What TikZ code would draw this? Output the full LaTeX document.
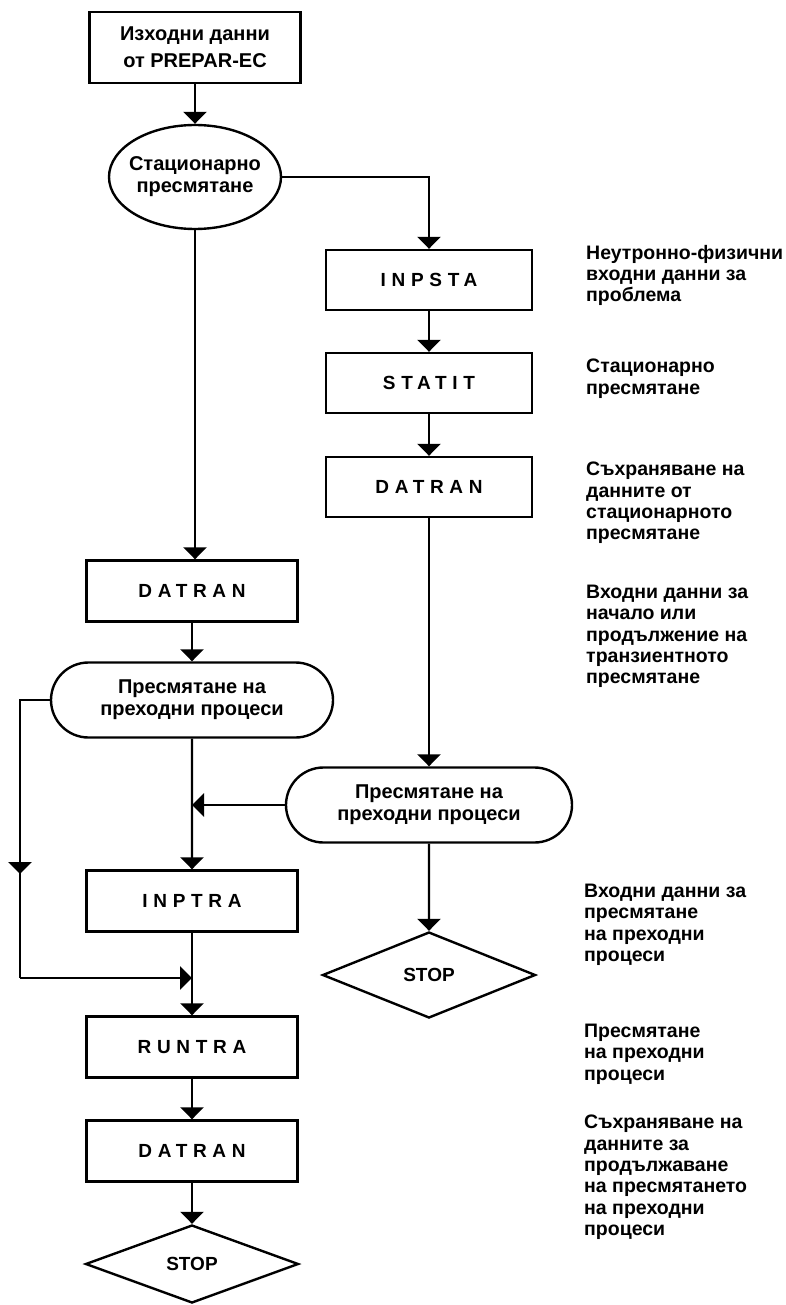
\documentclass[tikz,border=0pt]{standalone}
\usepackage{fontspec}
\setmainfont{Liberation Sans}
\usetikzlibrary{arrows.meta,shapes.geometric,shapes.misc}
\begin{document}
\begin{tikzpicture}[x=1pt,y=-1pt,
  ln/.style={line width=2.4pt},
  arr/.style={line width=2.4pt,-{Triangle[width=23pt,length=12pt]}},
  shp/.style={draw,line width=2.4pt,inner sep=0pt,align=center},
  txt/.style={font=\fontsize{20}{22}\selectfont\bfseries},
  box/.style={shp,minimum width=211pt,minimum height=61pt,
    font=\fontsize{19}{20}\selectfont\bfseries\addfontfeature{LetterSpace=30}},
  tbox/.style={shp,minimum width=211pt,minimum height=71pt,font=\fontsize{20}{27}\selectfont\bfseries},
  oval/.style={shp,txt,ellipse,inner xsep=-10pt,minimum width=172pt,minimum height=104pt},
  pill/.style={shp,txt,rounded rectangle,minimum width=282pt,minimum height=75pt},
  stopbox/.style={shp,diamond,minimum width=213pt,minimum height=82pt,font=\fontsize{19}{21}\selectfont\bfseries},
  note/.style={anchor=north west,inner sep=0pt,align=left,font=\fontsize{19.5}{21.3}\selectfont\bfseries}
]
\useasboundingbox (0,0) rectangle (785,1305);

% left column
\node[tbox] (top) at (195,47.5) {Изходни данни\\от PREPAR-EC};
\node[oval] (ell) at (195,177) {Стационарно\\пресмятане};
\node[box] (dl) at (192,591) {DATRAN};
\node[pill] (pl) at (192,700) {Пресмятане на\\преходни процеси};
\node[box] (inptra) at (192,901) {INPTRA};
\node[box] (runtra) at (192,1047) {RUNTRA};
\node[box] (dl2) at (192,1151) {DATRAN};
\node[stopbox,minimum height=78pt] (stopL) at (192,1264) {STOP};

% right column
\node[box,minimum width=206pt,minimum height=60pt] (inpsta) at (429,280) {INPSTA};
\node[box,minimum width=206pt,minimum height=60pt] (statit) at (429,383) {STATIT};
\node[box,minimum width=206pt,minimum height=60pt] (dr) at (429,487) {DATRAN};
\node[pill,minimum width=286pt] (pr) at (429,805) {Пресмятане на\\преходни процеси};
\node[stopbox,minimum height=86pt] (stopR) at (429,975) {STOP};

% notes
\node[note] (n1) at (586,245) {Неутронно-физични\\входни данни за\\проблема};
\node[note] (n2) at (586,359) {Стационарно\\пресмятане};
\node[note] (n3) at (586,462) {Съхраняване на\\данните от\\стационарното\\пресмятане};
\node[note] (n4) at (586,585) {Входни данни за\\начало или\\продължение на\\транзиентното\\пресмятане};
\node[note] (n5) at (584,884) {Входни данни за\\пресмятане\\на преходни\\процеси};
\node[note] (n6) at (584,1024) {Пресмятане\\на преходни\\процеси};
\node[note] (n7) at (584,1115) {Съхраняване на\\данните за\\продължаване\\на пресмятането\\на преходни\\процеси};

% connectors
\coordinate (m1) at (192,805);
\coordinate (a1) at (20,700);
\coordinate (a2) at (20,874);
\coordinate (a3) at (20,978);
\coordinate (m2) at (192,978);

\draw[arr] (top) -- (ell);
\draw[arr] (ell.east) -| (inpsta.north);
\draw[arr] (inpsta) -- (statit);
\draw[arr] (statit) -- (dr);
\draw[arr] (dr) -- (pr);
\draw[arr] (pr) -- (stopR);
\draw[arr] (ell.south) -- (ell.south |- dl.north);
\draw[arr] (dl) -- (pl);
\draw[arr] (pl) -- (inptra);
\draw[arr] (pr.west) -- (m1);
\draw[ln] (pl.west) -- (a1) -- (a3);
\draw[arr] (a1) -- (a2);
\draw[arr] (a3) -- (m2);
\draw[arr] (inptra) -- (runtra);
\draw[arr] (runtra) -- (dl2);
\draw[arr] (dl2) -- (stopL);
\end{tikzpicture}
\end{document}
